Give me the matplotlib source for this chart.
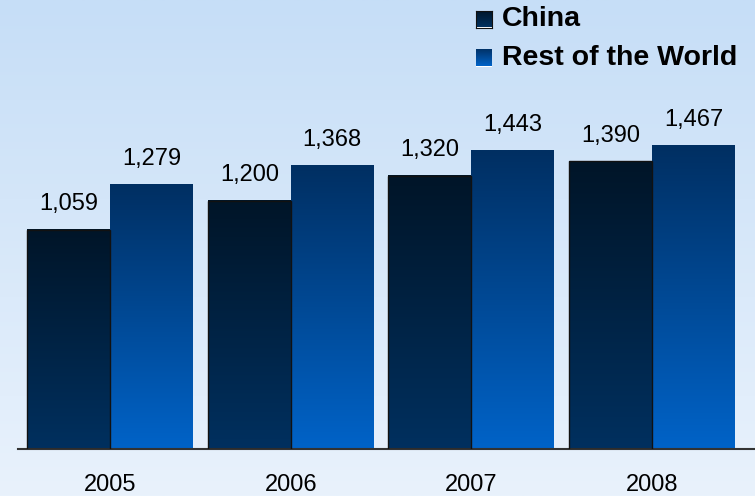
import matplotlib.pyplot as plt
import numpy as np
from matplotlib.colors import LinearSegmentedColormap

years = ['2005', '2006', '2007', '2008']
china = [1059, 1200, 1320, 1390]
rest_of_world = [1279, 1368, 1443, 1467]

plt.rcParams['font.family'] = ['Liberation Sans', 'DejaVu Sans']

china_cmap = LinearSegmentedColormap.from_list('china', ['#00305f', '#001528'])
row_cmap = LinearSegmentedColormap.from_list('row', ['#0063c8', '#002f62'])

fig = plt.figure(figsize=(7.55, 4.96), dpi=100)

# background gradient
bg = fig.add_axes([0, 0, 1, 1], zorder=0)
grad = np.linspace(0, 1, 256).reshape(-1, 1)
bg_cmap = LinearSegmentedColormap.from_list('bg', ['#e9f2fc', '#c6def7'])
bg.imshow(grad, aspect='auto', cmap=bg_cmap, origin='lower', extent=[0, 1, 0, 1])
bg.axis('off')

ax = fig.add_axes([18 / 755, 1 - 449 / 496, 1 - 18 / 755, 414 / 496], zorder=1)
ax.patch.set_alpha(0)

x = np.arange(len(years))
w = 0.459

def gradient_bar(xc, h, cmap, edge):
    ax.imshow(grad, aspect='auto', cmap=cmap, origin='lower',
              extent=[xc - w / 2, xc + w / 2, 0, h], zorder=2)
    ax.bar(xc, h, width=w, facecolor='none', edgecolor=edge,
           linewidth=1.0 if edge != 'none' else 0, zorder=3)

for i in range(len(years)):
    gradient_bar(x[i] - w / 2, china[i], china_cmap, '#111111')
    gradient_bar(x[i] + w / 2, rest_of_world[i], row_cmap, 'none')
    ax.text(x[i] - w / 2, china[i] + 70, f'{china[i]:,}', ha='center', va='bottom', fontsize=17)
    ax.text(x[i] + w / 2, rest_of_world[i] + 70, f'{rest_of_world[i]:,}', ha='center', va='bottom', fontsize=17)

ax.set_xlim(-0.51, 3.57)
ax.set_ylim(0, 2000)
ax.set_xticks(x)
ax.set_xticklabels(years, fontsize=17)
ax.tick_params(axis='x', length=0, pad=18)
ax.set_yticks([])
for s in ['top', 'right', 'left']:
    ax.spines[s].set_visible(False)
ax.spines['bottom'].set_color('#333333')
ax.spines['bottom'].set_linewidth(1.5)

# legend
for label, cmap, edge, yc in [('China', china_cmap, '#111111', 19),
                              ('Rest of the World', row_cmap, 'none', 58)]:
    sq = fig.add_axes([476 / 755, 1 - (yc + 8.5) / 496, 16 / 755, 17 / 496], zorder=2)
    sq.imshow(grad, aspect='auto', cmap=cmap, origin='lower', extent=[0, 1, 0, 1])
    sq.set_xticks([])
    sq.set_yticks([])
    for s in sq.spines.values():
        s.set_visible(edge != 'none')
        s.set_color(edge)
    fig.text(502 / 755, 1 - yc / 496, label, fontsize=20.5, fontweight='bold',
             ha='left', va='center')

fig.savefig('out.png', dpi=100)
